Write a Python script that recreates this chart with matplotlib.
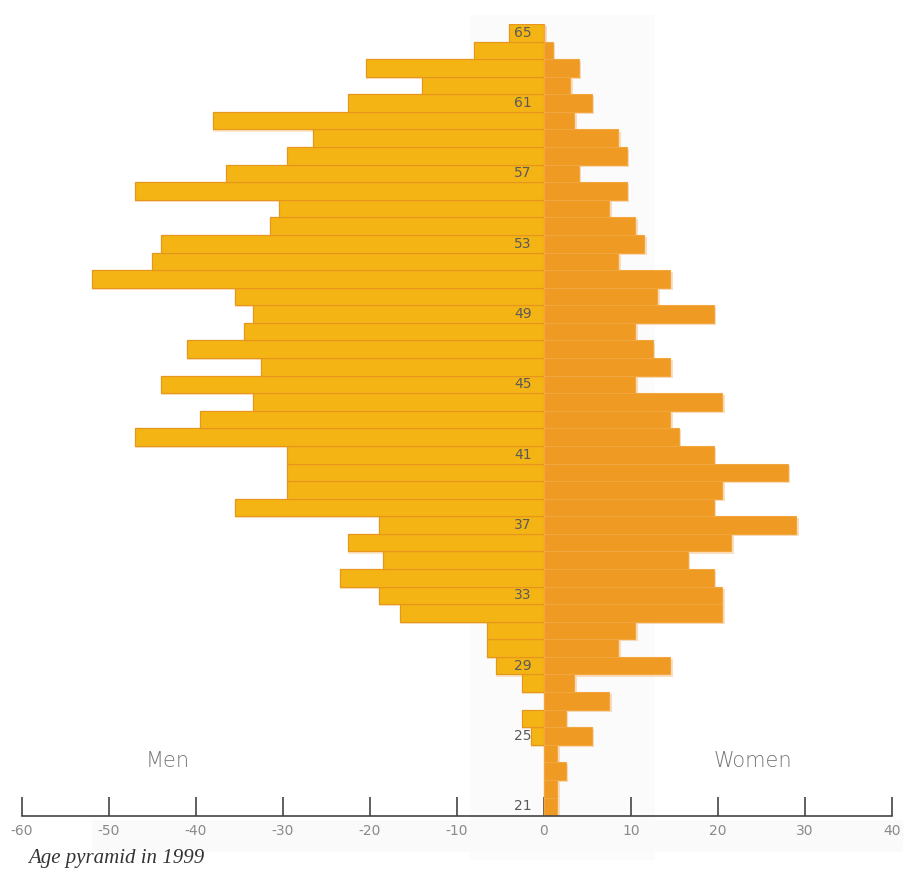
import numpy as numpy
import matplotlib
matplotlib.use("Agg")
import matplotlib.pyplot as plt
from matplotlib.patches import Rectangle

#Age pyramid, men on the left (negative), women on the right

ages = list(range(21, 66))

menValues = [0, 0, 0, 0, -1.5, -2.5, 0, -2.5, -5.5, -6.5,
             -6.5, -16.5, -19, -23.5, -18.5, -22.5, -19, -35.5, -29.5, -29.5,
             -29.5, -47, -39.5, -33.5, -44, -32.5, -41, -34.5, -33.5, -35.5,
             -52, -45, -44, -31.5, -30.5, -47, -36.5, -29.5, -26.5, -38,
             -22.5, -14, -20.5, -8, -4]

womenValues = [1.5, 1.5, 2.5, 1.5, 5.5, 2.5, 7.5, 3.5, 14.5, 8.5,
               10.5, 20.5, 20.5, 19.5, 16.5, 21.5, 29, 19.5, 20.5, 28,
               19.5, 15.5, 14.5, 20.5, 10.5, 14.5, 12.5, 10.5, 19.5, 13,
               14.5, 8.5, 11.5, 10.5, 7.5, 9.5, 4, 9.5, 8.5, 3.5,
               5.5, 3, 4, 1, 0]

ageLabels = [65, 61, 57, 53, 49, 45, 41, 37, 33, 29, 25, 21]
xTicks = [-60, -50, -40, -30, -20, -10, 0, 10, 20, 30, 40]

menColor = "#F4B514"
menEdge = "#E6961C"
womenColor = "#EF9A22"
womenEdge = "#F2A640"

fig = plt.figure(figsize=(9.04, 8.77), dpi=100)
fig.patch.set_facecolor("white")

# faint scan panel behind the centre and the tick labels
fig.add_artist(Rectangle((470 / 904, 1 - 860 / 877), 185 / 904, 845 / 877,
                         transform=fig.transFigure, facecolor="#FBFBFB",
                         edgecolor="none", zorder=0))
fig.add_artist(Rectangle((92 / 904, 1 - 852 / 877), 812 / 904, 32 / 877,
                         transform=fig.transFigure, facecolor="#FAFAFA",
                         edgecolor="none", zorder=0))

ax = fig.add_axes([22 / 904, 61 / 877, 870 / 904, 792 / 877])
ax.patch.set_alpha(0)

agesArr = numpy.array(ages)

# soft shadow under the bars
ax.barh(agesArr - 0.12, menValues, height=1.0, left=0, color="#F7C98A",
        alpha=0.45, edgecolor="none", zorder=1)
ax.barh(agesArr - 0.12, numpy.array(womenValues) + 0.3, height=1.0, color="#F5B675",
        alpha=0.45, edgecolor="none", zorder=1)

ax.barh(agesArr, menValues, height=1.0, color=menColor, edgecolor=menEdge,
        linewidth=0.9, zorder=2)
ax.barh(agesArr, womenValues, height=1.0, color=womenColor, edgecolor=womenEdge,
        linewidth=0.8, zorder=2)

for age in ageLabels:
    ax.text(-2.4, age, str(age), ha="center", va="center", fontsize=10,
            color="#5a5a5a", zorder=3)

ax.set_xlim(-60, 40)
ax.set_ylim(20.45, 65.5)

for side in ["top", "right", "left"]:
    ax.spines[side].set_visible(False)
ax.spines["bottom"].set_color("#444444")
ax.spines["bottom"].set_linewidth(1.2)
ax.spines["bottom"].set_zorder(4)

ax.set_yticks([])
ax.set_xticks(xTicks)
ax.set_xticklabels([str(t) for t in xTicks])
ax.tick_params(axis="x", direction="in", length=14, width=1.2, color="#444444",
               labelsize=10, labelcolor="#8a8a8a", pad=6)

ax.text(-43.3, 23.6, "Men", ha="center", va="center", fontsize=15,
        color="#777777", family="DejaVu Sans", fontweight="light")
ax.text(24, 23.6, "Women", ha="center", va="center", fontsize=15,
        color="#777777", family="DejaVu Sans", fontweight="light")

fig.text(28 / 904, 1 - 858 / 877, "Age pyramid in 1999", ha="left", va="center",
         fontsize=15, style="italic", family="Liberation Serif", color="#333333")

fig.savefig("out.png", dpi=100)
